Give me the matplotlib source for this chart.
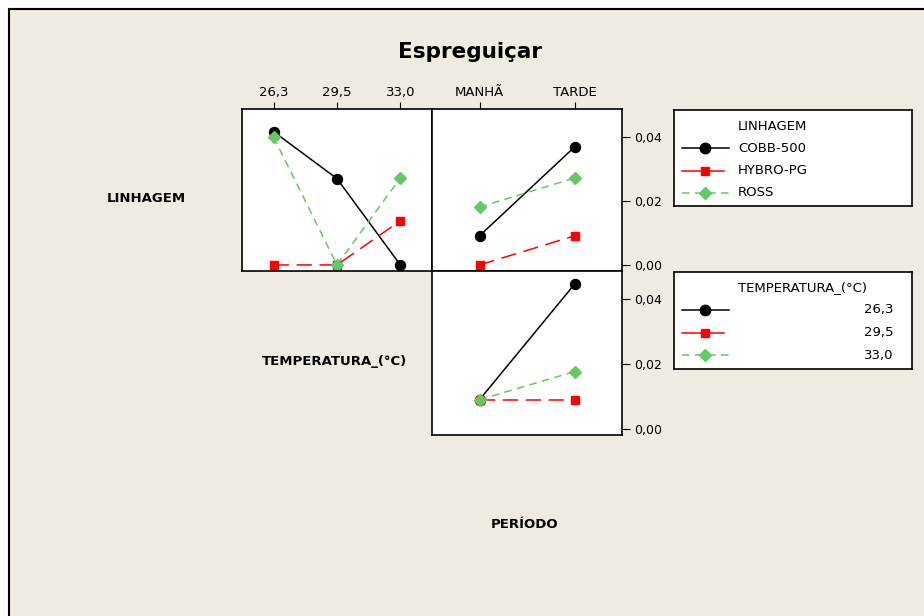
import matplotlib.pyplot as plt
from matplotlib.patches import Rectangle
from matplotlib.ticker import FuncFormatter

# =========================
# DATA
# =========================
linhagens = ["COBB-500", "HYBRO-PG", "ROSS"]
temperaturas = ["26,3", "29,5", "33,0"]
periodos = ["MANHÃ", "TARDE"]

# LINHAGEM x TEMPERATURA (top-left)
lin_temp_cobb = [0.0417, 0.0270, 0.0]
lin_temp_hybro = [0.0, 0.0, 0.0138]
lin_temp_ross = [0.0400, 0.0, 0.0272]

# LINHAGEM x PERIODO (top-right)
lin_per_cobb = [0.0091, 0.0369]
lin_per_hybro = [0.0, 0.0091]
lin_per_ross = [0.0181, 0.0272]

# TEMPERATURA x PERIODO (bottom-right)
temp_per_263 = [0.0090, 0.0447]
temp_per_295 = [0.0090, 0.0090]
temp_per_330 = [0.0090, 0.0177]

# =========================
# STYLE
# =========================
BG = "#efebe1"
GREEN = "#63c963"
styles = [
    dict(color="black", linestyle="-", marker="o", markersize=7.2, linewidth=1.1),
    dict(color="#ff0000", linestyle=(0, (10, 5)), marker="s", markersize=6, linewidth=1.1),
    dict(color=GREEN, linestyle=(0, (5, 3.5)), marker="D", markersize=6, linewidth=1.1),
]
# legend handles (red one shows as a short solid line in the original)
legend_ls = ["-", "-", (0, (5, 3.5))]
legend_x1 = [729, 724, 729]

W, H = 924, 616
fig = plt.figure(figsize=(W / 100, H / 100), dpi=100)
fig.patch.set_facecolor("white")
fig.patches.append(Rectangle((9 / W, -0.1), 1.2, 1.1 - 9 / H, transform=fig.transFigure,
                             facecolor=BG, edgecolor="black", linewidth=1.5, zorder=-1))


def px_axes(x0, y0, x1, y1):
    return fig.add_axes([x0 / W, 1 - y1 / H, (x1 - x0) / W, (y1 - y0) / H])


fmt = FuncFormatter(lambda v, p: f"{v:.2f}".replace(".", ","))
YLIM = (-0.0019, 0.0488)


def setup(ax, n, top=False, right=False, labels=None):
    ax.set_facecolor("white")
    ax.set_xlim(-0.5, n - 0.5)
    ax.set_ylim(*YLIM)
    ax.set_xticks(range(n))
    for s in ax.spines.values():
        s.set_linewidth(1.2)
    if top:
        ax.xaxis.tick_top()
        ax.set_xticklabels(labels, fontsize=9.5)
        ax.tick_params(axis="x", direction="out", length=5, pad=2)
    else:
        ax.set_xticks([])
    if right:
        ax.yaxis.tick_right()
        ax.set_yticks([0.0, 0.02, 0.04])
        ax.yaxis.set_major_formatter(fmt)
        ax.tick_params(axis="y", direction="out", length=6, labelsize=9, pad=3)
    else:
        ax.set_yticks([])


ax1 = px_axes(242, 109, 432, 271)
setup(ax1, 3, top=True, labels=temperaturas)
for vals, st in zip([lin_temp_cobb, lin_temp_hybro, lin_temp_ross], styles):
    ax1.plot(range(3), vals, **st)

ax2 = px_axes(432, 109, 622, 271)
setup(ax2, 2, top=True, right=True, labels=periodos)
for vals, st in zip([lin_per_cobb, lin_per_hybro, lin_per_ross], styles):
    ax2.plot(range(2), vals, **st)

ax3 = px_axes(432, 271, 622, 435)
setup(ax3, 2, right=True)
for vals, st in zip([temp_per_263, temp_per_295, temp_per_330], styles):
    ax3.plot(range(2), vals, **st)

# titles / row labels
fig.text(470 / W, 1 - 52 / H, "Espreguiçar", ha="center", va="center",
         fontsize=15.5, fontweight="bold")
fig.text(146 / W, 1 - 199 / H, "LINHAGEM", ha="center", va="center",
         fontsize=9.5, fontweight="bold")
fig.text(335 / W, 1 - 362 / H, "TEMPERATURA_(°C)", ha="center", va="center",
         fontsize=9.5, fontweight="bold")
fig.text(525 / W, 1 - 524 / H, "PERÍODO", ha="center", va="center",
         fontsize=9.5, fontweight="bold")


# legends drawn as small boxed axes
def legend_box(x0, y0, x1, y1, title, labels, right_align=False):
    lax = px_axes(x0, y0, x1, y1)
    lax.set_xlim(x0, x1)
    lax.set_ylim(y1, y0)
    lax.set_xticks([])
    lax.set_yticks([])
    for s in lax.spines.values():
        s.set_linewidth(1.2)
    lax.text(738, y0 + 16, title, va="center", ha="left", fontsize=9.5)
    for i, (lab, st) in enumerate(zip(labels, styles)):
        yy = y0 + 38 + i * 22.5
        lax.plot([682, legend_x1[i]], [yy, yy], color=st["color"],
                 linestyle=legend_ls[i], linewidth=st["linewidth"])
        lax.plot([705], [yy], marker=st["marker"], color=st["color"],
                 markersize=st["markersize"] + 0.3, linestyle="none")
        if right_align:
            lax.text(893, yy, lab, va="center", ha="right", fontsize=9.5)
        else:
            lax.text(738, yy, lab, va="center", ha="left", fontsize=9.5)


legend_box(674, 110, 912, 206, "LINHAGEM", linhagens)
legend_box(674, 272, 912, 369, "TEMPERATURA_(°C)", temperaturas, right_align=True)

fig.savefig("out.png", dpi=100, facecolor=fig.get_facecolor())
